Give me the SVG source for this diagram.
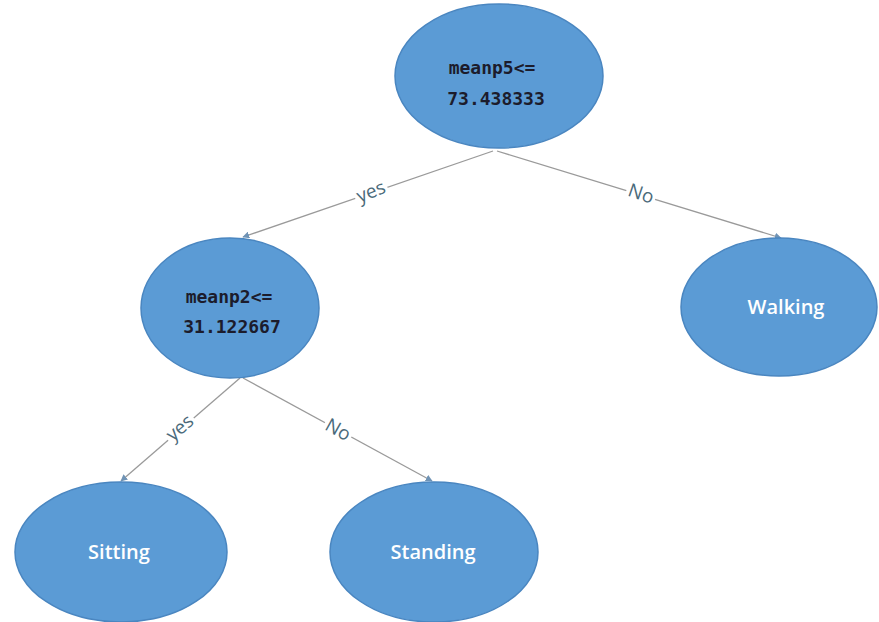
<svg xmlns="http://www.w3.org/2000/svg" width="879" height="622" viewBox="0 0 879 622">
<defs>
<style>
.node{fill:#5b9bd5;stroke:#4a86c0;stroke-width:1.5}
.cond{font-family:"DejaVu Sans Mono","Liberation Mono",monospace;font-weight:bold;font-size:18px;fill:#1c1c2c;text-anchor:middle}
.leaf{font-family:"Open Sans","Liberation Sans",sans-serif;font-weight:600;font-size:20px;fill:#ffffff;text-anchor:middle}
.edge{stroke:#9a9a9a;stroke-width:1.3;fill:none;marker-end:url(#arr)}
.lbl{font-family:"Open Sans","Liberation Sans",sans-serif;font-size:19px;fill:#4a6a7a;text-anchor:middle}
.lblbg{fill:#ffffff}
</style>
<marker id="arr" viewBox="0 0 10 10" refX="9" refY="5" markerWidth="7" markerHeight="7" orient="auto" markerUnits="userSpaceOnUse">
<path d="M0,0 L10,5 L0,10 z" fill="#6f93b5"/>
</marker>
</defs>
<g id="connectors">
<line class="edge" x1="493" y1="151" x2="243" y2="237"/>
<line class="edge" x1="497" y1="151" x2="781" y2="238"/>
<line class="edge" x1="240" y1="378" x2="121" y2="481"/>
<line class="edge" x1="243" y1="378" x2="432" y2="481"/>
<g transform="translate(371,192) rotate(-22)"><rect class="lblbg" x="-17" y="-10" width="34" height="19"/><text class="lbl" y="6">yes</text></g>
<g transform="translate(641,194) rotate(19)"><rect class="lblbg" x="-15" y="-10" width="30" height="19"/><text class="lbl" y="6">No</text></g>
<g transform="translate(180,428) rotate(-40)"><rect class="lblbg" x="-17" y="-10" width="34" height="19"/><text class="lbl" y="6">yes</text></g>
<g transform="translate(338,430) rotate(29)"><rect class="lblbg" x="-15" y="-10" width="30" height="19"/><text class="lbl" y="6">No</text></g>
</g>
<g id="n-root">
<ellipse class="node" cx="499" cy="76" rx="104" ry="72"/>
<text class="cond" x="492" y="74">meanp5&lt;=</text>
<text class="cond" x="496" y="105">73.438333</text>
</g>
<g id="n-meanp2">
<ellipse class="node" cx="230" cy="308" rx="89" ry="70"/>
<text class="cond" x="229" y="303">meanp2&lt;=</text>
<text class="cond" x="232" y="333">31.122667</text>
</g>
<g id="n-walking">
<ellipse class="node" cx="779" cy="307" rx="98" ry="69"/>
<text class="leaf" x="786" y="314">Walking</text>
</g>
<g id="n-sitting">
<ellipse class="node" cx="121" cy="552" rx="106" ry="70"/>
<text class="leaf" x="119" y="559">Sitting</text>
</g>
<g id="n-standing">
<ellipse class="node" cx="434" cy="552" rx="104" ry="70"/>
<text class="leaf" x="433" y="559">Standing</text>
</g>
</svg>
